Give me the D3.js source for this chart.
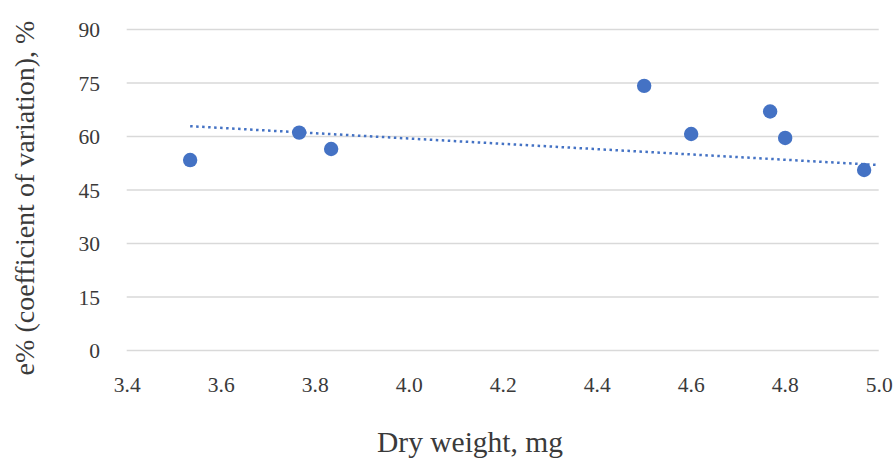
<!DOCTYPE html>
<html><head><meta charset="utf-8">
<script src="https://cdn.jsdelivr.net/npm/d3@7"></script>
<style>
html,body{margin:0;padding:0;background:#fff;}
svg text{font-family:"Liberation Serif", "DejaVu Serif", serif !important; fill:#3a3a3a;}
.tick text{font-size:21.5px !important;}
.title{font-size:28px;}
</style>
</head><body>
<svg id="chart" width="896" height="459"></svg>
<script>
const dryWeight = [3.535, 3.767, 3.835, 4.501, 4.601, 4.769, 4.801, 4.969];
const cvPercent = [53.4, 61.1, 56.5, 74.2, 60.7, 67.0, 59.6, 50.6];
const trendX = [3.535, 5.0];
const trendY = [62.9, 52.0];
const xTicks = [3.4, 3.6, 3.8, 4.0, 4.2, 4.4, 4.6, 4.8, 5.0];
const yTicks = [0, 15, 30, 45, 60, 75, 90];
const xTitle = "Dry weight, mg";
const yTitle = "e% (coefficient of variation), %";

const svg = d3.select("#chart");
const blue = "#4472C4";

const x = d3.scaleLinear().domain([3.4, 5.0]).range([126.7, 878.7]);
const y = d3.scaleLinear().domain([0, 90]).range([350.5, 29.5]);

// gridlines
svg.append("g").selectAll("line").data(yTicks).join("line")
  .attr("x1", x(3.4)).attr("x2", x(5.0))
  .attr("y1", d => y(d)).attr("y2", d => y(d))
  .attr("stroke", "#d9d9d9").attr("stroke-width", 1.5);

// y axis labels
const yAxis = d3.axisLeft(y).tickValues(yTicks).tickSize(0).tickPadding(0).tickFormat(d3.format("d"));
const gy = svg.append("g").attr("transform", `translate(100,0)`).call(yAxis);
gy.select(".domain").remove();
gy.selectAll("text").attr("dy", "0.34em");

// x axis labels
const xAxis = d3.axisBottom(x).tickValues(xTicks).tickSize(0).tickPadding(0).tickFormat(d3.format(".1f"));
const gx = svg.append("g").attr("transform", `translate(0,${y(0)})`).call(xAxis);
gx.select(".domain").remove();
gx.selectAll("text").attr("dy", null).attr("y", 41.5);

// trendline
svg.append("line")
  .attr("x1", x(trendX[0])).attr("y1", y(trendY[0]))
  .attr("x2", x(trendX[1])).attr("y2", y(trendY[1]))
  .attr("stroke", blue).attr("stroke-width", 2.5).attr("stroke-dasharray", "2.5 3.5");

// points
svg.append("g").selectAll("circle").data(dryWeight.map((d, i) => [d, cvPercent[i]])).join("circle")
  .attr("cx", d => x(d[0])).attr("cy", d => y(d[1])).attr("r", 7.2)
  .attr("fill", blue);

// titles
svg.append("text").attr("class", "title").attr("x", 470).attr("y", 452).attr("text-anchor", "middle")
  .style("font-size", "29.5px").text(xTitle);
svg.append("text").attr("class", "title").attr("transform", "translate(34,198) rotate(-90)").attr("text-anchor", "middle").text(yTitle);
</script>
</body></html>
